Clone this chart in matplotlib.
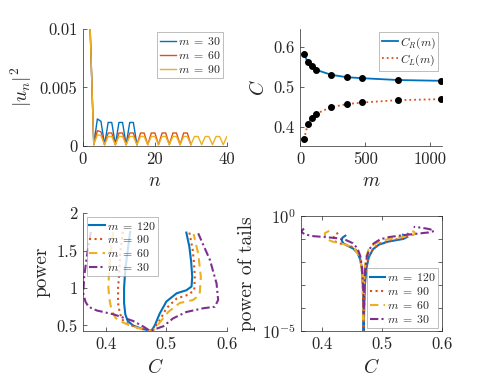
import numpy as np
import matplotlib
matplotlib.use("Agg")
import matplotlib.pyplot as plt
from matplotlib.ticker import FixedLocator, NullLocator

plt.rcParams['font.family'] = 'cmr10'
plt.rcParams['mathtext.fontset'] = 'cm'
plt.rcParams['axes.unicode_minus'] = False
plt.rcParams['axes.formatter.use_mathtext'] = True

BLUE = '#0072BD'
ORANGE = '#D95319'
YELLOW = '#EDB120'
PURPLE = '#7E2F8E'
TXT = '#262626'

# ---------------- panel 1 data: |u_n|^2 vs n ----------------
n_m30 = list(range(2, 16))
u_m30 = [0.0100, 0.0001, 0.0023, 0.0021, 0.0001, 0.0020, 0.0020, 0.0001,
         0.0020, 0.0020, 0.0001, 0.0020, 0.0020, 0.0001]
n_m60 = list(range(2, 31))
u_m60 = [0.0100, 0.0001, 0.0013, 0.0012, 0.0001, 0.0011, 0.0011, 0.0001,
         0.0011, 0.0011, 0.0001, 0.0011, 0.0011, 0.0001, 0.0011, 0.0011,
         0.0001, 0.0011, 0.0011, 0.0001, 0.0011, 0.0011, 0.0001, 0.0011,
         0.0011, 0.0001, 0.0011, 0.0011, 0.0001]
n_m90 = list(range(2, 46))
u_m90 = [0.0100, 0.0001, 0.00094, 0.00088, 0.0001, 0.0008, 0.0008, 0.0001,
         0.0008, 0.0008, 0.0001, 0.0008, 0.0008, 0.0001, 0.0008, 0.0008,
         0.0001, 0.0008, 0.0008, 0.0001, 0.0008, 0.0008, 0.0001, 0.0008,
         0.0008, 0.0001, 0.0008, 0.0008, 0.0001, 0.0008, 0.0008, 0.0001,
         0.0008, 0.0008, 0.0001, 0.0008, 0.0008, 0.0001, 0.0008, 0.0008,
         0.0001, 0.0008, 0.0008, 0.0001]
p1_labels = [r'$m\;=\;30$', r'$m\;=\;60$', r'$m\;=\;90$']

# ---------------- panel 2 data: C vs m ----------------
m_vals = [30, 60, 90, 120, 240, 360, 480, 750, 1080]
C_R = [0.584, 0.5625, 0.552, 0.544, 0.531, 0.525, 0.5225, 0.518, 0.516]
C_L = [0.369, 0.4075, 0.424, 0.433, 0.450, 0.4575, 0.4617, 0.4675, 0.470]

# ---------------- panel 3 data: power vs C ----------------
p3_C_120 = [0.440, 0.436, 0.432, 0.430, 0.430, 0.432, 0.436, 0.445, 0.458, 0.468, 0.473,
            0.477, 0.481, 0.489, 0.500, 0.517, 0.533, 0.5416, 0.5427, 0.541, 0.538, 0.533]
p3_P_120 = [1.75, 1.50, 1.25, 1.00, 0.80, 0.65, 0.56, 0.50, 0.46, 0.44, 0.427,
            0.45, 0.505, 0.66, 0.82, 0.93, 0.97, 1.02, 1.15, 1.35, 1.55, 1.74]
p3_C_90 = [0.428, 0.424, 0.422, 0.420, 0.420, 0.423, 0.428, 0.437, 0.450, 0.463, 0.473,
           0.478, 0.483, 0.489, 0.500, 0.517, 0.536, 0.546, 0.547, 0.5455, 0.5435, 0.538]
p3_P_90 = [1.75, 1.50, 1.20, 1.00, 0.80, 0.66, 0.57, 0.52, 0.475, 0.445, 0.427,
           0.44, 0.50, 0.57, 0.73, 0.86, 0.91, 0.97, 1.15, 1.35, 1.51, 1.74]
p3_C_60 = [0.412, 0.408, 0.405, 0.404, 0.406, 0.4094, 0.416, 0.425, 0.440, 0.458, 0.473,
           0.479, 0.485, 0.492, 0.503, 0.522, 0.544, 0.555, 0.557, 0.5526, 0.545]
p3_P_60 = [1.75, 1.50, 1.20, 1.00, 0.84, 0.70, 0.60, 0.55, 0.50, 0.455, 0.427,
           0.44, 0.50, 0.57, 0.68, 0.80, 0.84, 0.91, 1.15, 1.46, 1.72]
p3_C_30 = [0.375, 0.371, 0.368, 0.364, 0.3625, 0.366, 0.371, 0.385, 0.412, 0.445, 0.463, 0.473,
           0.481, 0.495, 0.511, 0.533, 0.561, 0.580, 0.5856, 0.583, 0.572, 0.5526]
p3_P_30 = [1.75, 1.55, 1.40, 1.15, 0.93, 0.82, 0.75, 0.70, 0.65, 0.56, 0.48, 0.427,
           0.45, 0.49, 0.595, 0.68, 0.73, 0.75, 0.84, 1.06, 1.375, 1.73]

# ---------------- panel 4 data: power of tails (log10) vs C ----------------
p4_C_120 = [0.439, 0.434, 0.433, 0.436, 0.443, 0.452, 0.459, 0.464, 0.467, 0.4685, 0.469, 0.469,
            0.4695, 0.470, 0.4715, 0.474, 0.478, 0.485, 0.495, 0.510, 0.525, 0.536, 0.541, 0.540, 0.535]
p4_L_120 = [-0.86, -0.95, -1.08, -1.20, -1.30, -1.42, -1.60, -1.90, -2.40, -3.20, -4.50, -6.0,
            -6.0, -4.50, -3.00, -2.30, -1.80, -1.45, -1.25, -1.12, -1.05, -1.00, -0.93, -0.86, -0.82]
p4_C_90 = [0.427, 0.421, 0.419, 0.421, 0.428, 0.438, 0.449, 0.457, 0.463, 0.466, 0.468, 0.469,
           0.4695, 0.470, 0.4715, 0.474, 0.478, 0.486, 0.497, 0.512, 0.528, 0.540, 0.546, 0.545, 0.539]
p4_L_90 = [-0.74, -0.83, -0.98, -1.10, -1.18, -1.25, -1.33, -1.48, -1.80, -2.20, -3.00, -4.20,
           -5.50, -4.20, -3.00, -2.20, -1.75, -1.40, -1.20, -1.08, -1.00, -0.95, -0.88, -0.80, -0.74]
p4_C_60 = [0.412, 0.405, 0.405, 0.409, 0.418, 0.432, 0.445, 0.455, 0.462, 0.466, 0.468, 0.469,
           0.470, 0.4715, 0.474, 0.478, 0.486, 0.497, 0.512, 0.530, 0.546, 0.555, 0.554, 0.546]
p4_L_60 = [-0.65, -0.75, -0.90, -1.03, -1.12, -1.20, -1.30, -1.45, -1.75, -2.20, -3.00, -4.50,
           -3.00, -2.20, -1.75, -1.45, -1.25, -1.10, -1.00, -0.93, -0.87, -0.80, -0.70, -0.62]
p4_C_30 = [0.370, 0.365, 0.371, 0.385, 0.405, 0.425, 0.440, 0.451, 0.459, 0.464, 0.467, 0.469,
           0.4695, 0.4705, 0.472, 0.475, 0.479, 0.486, 0.497, 0.512, 0.535, 0.560, 0.578, 0.587,
           0.580, 0.565, 0.553]
p4_L_30 = [-0.55, -0.68, -0.80, -0.88, -0.92, -0.97, -1.05, -1.18, -1.40, -1.75, -2.30, -3.30,
           -4.20, -3.30, -2.30, -1.75, -1.45, -1.20, -1.02, -0.92, -0.84, -0.77, -0.72, -0.66,
           -0.58, -0.51, -0.48]

m_labels = [r'$m\;=\;120$', r'$m\;=\;90$', r'$m\;=\;60$', r'$m\;=\;30$']

# ---------------- figure ----------------
fig = plt.figure(figsize=(4.91, 3.91), dpi=100)
ax1 = fig.add_axes([0.169, 0.627, 0.293, 0.299])
ax2 = fig.add_axes([0.611, 0.627, 0.289, 0.299])
ax3 = fig.add_axes([0.169, 0.153, 0.293, 0.302])
ax4 = fig.add_axes([0.613, 0.153, 0.287, 0.295])

LAB = 14
TICK = 12
LEG = 8.5


def style(ax, box=False):
    for s in ['left', 'bottom', 'top', 'right']:
        ax.spines[s].set_linewidth(0.5)
        ax.spines[s].set_color(TXT)
    if not box:
        ax.spines['top'].set_visible(False)
        ax.spines['right'].set_visible(False)
    ax.tick_params(direction='in', length=3, width=0.5, colors=TXT,
                   labelsize=TICK, top=box, right=box, pad=4)
    ax.tick_params(which='minor', length=0)


def legend(ax, loc, **kw):
    lg = ax.legend(loc=loc, fontsize=LEG, frameon=True, fancybox=False,
                   handlelength=1.3, handletextpad=0.15, borderpad=0.25,
                   labelspacing=0.15, borderaxespad=0.3, **kw)
    lg.get_frame().set_linewidth(0.5)
    lg.get_frame().set_edgecolor('#8c8c8c')
    for t in lg.get_texts():
        t.set_color(TXT)
    return lg


# panel 1
ax1.plot(n_m30, u_m30, color=BLUE, lw=1.0, label=p1_labels[0])
ax1.plot(n_m60, u_m60, color=ORANGE, lw=1.0, label=p1_labels[1])
ax1.plot(n_m90, u_m90, color=YELLOW, lw=1.0, label=p1_labels[2])
ax1.set_xlim(0, 40)
ax1.set_ylim(0, 0.01)
ax1.set_xticks([0, 20, 40])
ax1.set_xticklabels(['0', '20', '40'])
ax1.set_yticks([0, 0.005, 0.01])
ax1.set_yticklabels(['0', '0.005', '0.01'])
ax1.set_xlabel('$n$', fontsize=LAB, color=TXT)
ax1.set_ylabel('$|u_n|^2$', fontsize=LAB, color=TXT)
style(ax1)
legend(ax1, 'upper right')

# panel 2
ax2.plot(m_vals, C_R, color=BLUE, lw=1.3, label='$C_R(m)$')
ax2.plot(m_vals, C_L, color=ORANGE, lw=1.3, ls=':', label='$C_L(m)$')
ax2.plot(m_vals, C_R, 'o', color='black', ms=4, zorder=5)
ax2.plot(m_vals, C_L, 'o', color='black', ms=4, zorder=5)
ax2.set_xlim(0, 1090)
ax2.set_ylim(0.353, 0.646)
ax2.set_xticks([0, 500, 1000])
ax2.set_xticklabels(['0', '500', '1000'])
ax2.set_yticks([0.4, 0.5, 0.6])
ax2.set_yticklabels(['0.4', '0.5', '0.6'])
ax2.set_xlabel('$m$', fontsize=LAB, color=TXT)
ax2.set_ylabel('$C$', fontsize=LAB, color=TXT)
style(ax2)
h2, l2 = ax2.get_legend_handles_labels()
legend(ax2, 'upper right', handles=h2[:2], labels=l2[:2])

# panel 3
ax3.plot(p3_C_120, p3_P_120, color=BLUE, lw=1.5, ls='-', label=m_labels[0])
ax3.plot(p3_C_90, p3_P_90, color=ORANGE, lw=1.5, ls=':', label=m_labels[1])
ax3.plot(p3_C_60, p3_P_60, color=YELLOW, lw=1.5, ls=(0, (4, 2.5)), label=m_labels[2])
ax3.plot(p3_C_30, p3_P_30, color=PURPLE, lw=1.5, ls=(0, (4, 1.5, 1, 1.5)), label=m_labels[3])
ax3.set_xlim(0.362, 0.6)
ax3.set_ylim(0.424, 2.0)
ax3.set_xticks([0.4, 0.5, 0.6])
ax3.set_xticklabels(['0.4', '0.5', '0.6'])
ax3.set_yticks([0.5, 1, 1.5, 2])
ax3.set_yticklabels(['0.5', '1', '1.5', '2'])
ax3.set_xlabel('$C$', fontsize=LAB, color=TXT)
ax3.set_ylabel('power', fontsize=LAB, color=TXT)
style(ax3)
legend(ax3, 'upper left')

# panel 4
ax4.plot(p4_C_120, 10 ** np.array(p4_L_120), color=BLUE, lw=1.5, ls='-', label=m_labels[0])
ax4.plot(p4_C_90, 10 ** np.array(p4_L_90), color=ORANGE, lw=1.5, ls=':', label=m_labels[1])
ax4.plot(p4_C_60, 10 ** np.array(p4_L_60), color=YELLOW, lw=1.5, ls=(0, (4, 2.5)), label=m_labels[2])
ax4.plot(p4_C_30, 10 ** np.array(p4_L_30), color=PURPLE, lw=1.5, ls=(0, (4, 1.5, 1, 1.5)), label=m_labels[3])
ax4.set_yscale('log')
ax4.set_xlim(0.365, 0.6)
ax4.set_ylim(1e-5, 1)
ax4.set_xticks([0.4, 0.5, 0.6])
ax4.set_xticklabels(['0.4', '0.5', '0.6'])
ax4.yaxis.set_major_locator(FixedLocator([1e-5, 1e-4, 1e-3, 1e-2, 1e-1, 1]))
ax4.yaxis.set_minor_locator(NullLocator())
ax4.set_yticklabels(['$10^{-5}$', '', '', '', '', '$10^{0}$'])
ax4.set_xlabel('$C$', fontsize=LAB, color=TXT)
ax4.set_ylabel('power of tails', fontsize=LAB, color=TXT)
style(ax4, box=True)
legend(ax4, 'lower right')

fig.savefig('out.png', dpi=100)
